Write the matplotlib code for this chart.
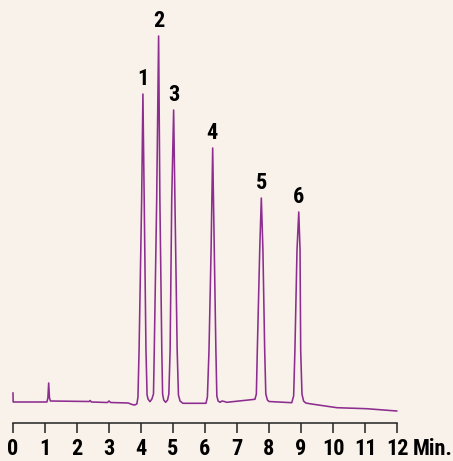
import matplotlib.pyplot as plt

# Chromatogram trace (time in min, detector signal, arbitrary units)
time_min = [0.00, 0.005, 1.06, 1.09, 1.115, 1.14, 1.17, 2.38, 2.41, 2.45, 2.95, 3.00, 3.05,
            3.60, 3.72, 3.80, 3.87, 3.905, 3.94, 4.02, 4.06, 4.10, 4.155, 4.19, 4.22, 4.28,
            4.34, 4.39, 4.415, 4.49, 4.55, 4.59, 4.65, 4.675, 4.71, 4.77, 4.83, 4.87, 4.91,
            4.96, 5.02, 5.06, 5.13, 5.17, 5.22, 5.31, 6.03, 6.075, 6.125, 6.19, 6.24, 6.29,
            6.34, 6.37, 6.41, 6.47, 6.53, 6.60, 6.68, 7.56, 7.605, 7.635, 7.71, 7.76, 7.81,
            7.865, 7.90, 7.95, 8.00, 8.71, 8.77, 8.81, 8.875, 8.93, 8.97, 8.99, 9.03, 9.08,
            9.15, 9.33, 10.12, 11.05, 11.99]
signal = [9, 0, 0, 4, 19, 4, 1, 0.5, 1.5, 0, -0.5, 1, -0.5,
          -1, -2.5, -3, -2, 5, 52, 202, 308, 202, 52, 7, 3, 0.3,
          3, 8, 52, 202, 366, 202, 52, 8, 2, -0.3, 2, 8, 52,
          202, 292, 202, 52, 7, 1, -1.3, -1.3, 5, 52, 152, 254, 152,
          52, 6, 1, -0.3, 1, 0.5, -0.3, 2.7, 8, 52, 152, 204, 152,
          52, 8, 2, 0.5, -0.7, 6, 52, 152, 190, 152, 52, 8, 1,
          -1, -2, -5.7, -6.7, -9]

# Peak numbers
peak_labels = ['1', '2', '3', '4', '5', '6']
peak_times = [4.05, 4.55, 5.02, 6.23, 7.76, 8.92]
peak_heights = [308, 366, 292, 254, 204, 190]

ticks = list(range(0, 13))

bg = '#f9f2ea'
purple = '#8c2d8f'
# narrow bold face if one is installed, else plain Liberation Sans
font = ['Liberation Sans Narrow', 'Roboto Condensed', 'DejaVu Sans Condensed', 'Liberation Sans']
fsize = 16

fig = plt.figure(figsize=(4.53, 4.61), dpi=100, facecolor=bg)
ax = fig.add_axes([0, 0, 1, 1])
ax.set_facecolor(bg)

ax.plot(time_min, signal, color=purple, linewidth=1.15, solid_joinstyle='round')

for lab, t, h in zip(peak_labels, peak_times, peak_heights):
    ax.annotate(lab, (t, h), xytext=(0, 10.5), textcoords='offset points',
                ha='center', va='center', fontsize=fsize, fontweight='heavy',
                family=font, color='black')

ax.set_xlim(-13 / 32, 440 / 32)
ax.set_ylim(-59, 402)

for side in ['top', 'left', 'right']:
    ax.spines[side].set_visible(False)
ax.spines['bottom'].set_position(('data', -21))
ax.spines['bottom'].set_bounds(0, 12)
ax.spines['bottom'].set_linewidth(1.1)
ax.spines['bottom'].set_color('#222222')

pad = 3.5
ax.set_yticks([])
ax.set_xticks(ticks)
ax.set_xticklabels([str(t) for t in ticks], fontsize=fsize, fontweight='heavy', family=font)
ax.tick_params(axis='x', direction='out', length=7.2, width=1.1, color='#222222', pad=pad)

ax.annotate('Min.', xy=(12, -21), xycoords='data', xytext=(11, -(7.2 + pad)),
            textcoords='offset points', ha='left', va='top', fontsize=fsize,
            fontweight='heavy', family=font)

fig.savefig('out.png', dpi=100, facecolor=bg)
